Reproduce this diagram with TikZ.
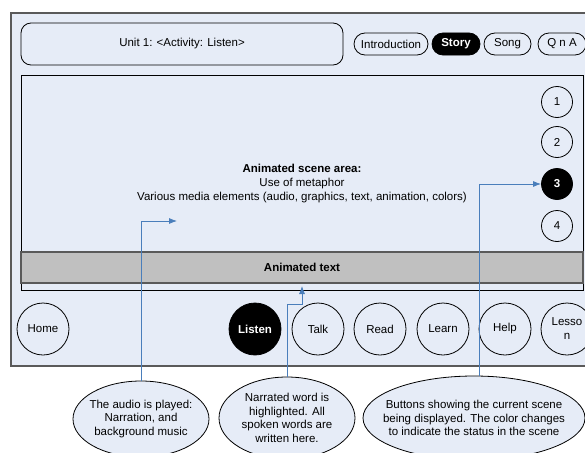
\documentclass[tikz,border=0pt]{standalone}
\usepackage{fontspec}
\setmainfont{Liberation Sans}
\usetikzlibrary{shapes.geometric,arrows.meta}
\definecolor{bgfill}{HTML}{E6ECF7}
\definecolor{conn}{HTML}{4A7EBB}
\definecolor{barfill}{HTML}{C0C0C0}
\definecolor{framegray}{HTML}{5A5A5A}
\tikzset{
  every node/.style={font=\fontsize{11.5}{13.5}\selectfont, inner sep=0pt},
  pill/.style={draw=black, fill=bgfill, rounded corners=11pt, minimum height=22pt, line width=0.8pt},
  pillon/.style={pill, fill=black, text=white, font=\fontsize{11.5}{13.5}\selectfont\bfseries},
  navbtn/.style={draw=black, fill=bgfill, circle, minimum size=52pt, line width=0.8pt},
  navon/.style={navbtn, fill=black, text=white, font=\fontsize{11.5}{13.5}\selectfont\bfseries},
  scenebtn/.style={draw=black, fill=bgfill, circle, minimum size=31pt, line width=0.8pt},
  sceneon/.style={scenebtn, fill=black, text=white, font=\fontsize{11.5}{13.5}\selectfont\bfseries},
  note/.style={draw=black, fill=bgfill, ellipse, line width=0.8pt, align=center, inner xsep=-30pt, inner ysep=-5pt, font=\fontsize{11.5}{13.5}\selectfont},
  link/.style={draw=conn, line width=0.8pt, -{Latex[length=8pt,width=6pt]}},
}
\begin{document}
\begin{tikzpicture}[x=1pt,y=-1pt]
\useasboundingbox (0,0) rectangle (585,452);
% outer frame
\draw[framegray, line width=1.2pt, fill=bgfill] (590,13) -- (11,13) -- (11,366) -- (590,366);
% header
\node[draw=black, fill=bgfill, rounded corners=10pt, minimum width=322pt, minimum height=42pt, line width=0.8pt] (header) at (182,44) {Unit 1: <Activity: Listen>};
% pills
\node[pill, minimum width=74pt] (intro) at (391,44) {Introduction};
\node[pillon, minimum width=48pt] (story) at (456,44) {Story};
\node[pill, minimum width=47pt] (song) at (507.5,44) {Song};
\node[pill, minimum width=48pt] (qna) at (562,44) {Q n A};
% scene area
\node[draw=black, fill=bgfill, minimum width=562pt, minimum height=215pt, line width=0.8pt] (scene) at (302,182.5) {};
\node[align=center, font=\fontsize{11.5}{14}\selectfont] (scenetext) at (302,184) {\textbf{Animated scene area:}\\Use of metaphor\\Various media elements (audio, graphics, text, animation, colors)};
\node[draw=framegray, fill=barfill, line width=1.5pt, minimum width=562pt, minimum height=31pt, font=\fontsize{11.5}{13.5}\selectfont\bfseries] (bar) at (302,267.5) {Animated text};
% scene buttons
\node[scenebtn] (s1) at (557,102) {1};
\node[scenebtn] (s2) at (557,142) {2};
\node[sceneon] (s3) at (557,184) {3};
\node[scenebtn] (s4) at (557,226) {4};
% nav buttons
\node[navbtn] (home) at (43,329) {Home};
\node[navon] (listen) at (255,329) {Listen};
\node[navbtn] (talk) at (318,329) {Talk};
\node[navbtn] (read) at (380,329) {Read};
\node[navbtn] (learn) at (443,329) {Learn};
\node[navbtn] (help) at (505,329) {Help};
\node[navbtn, align=center, font=\fontsize{11.5}{14}\selectfont] (lesson) at (567,329) {Lesso\\n};
% notes
\node[note, minimum width=136pt, minimum height=76pt] (n1) at (141,419) {The audio is played:\\Narration, and\\background music};
\node[note, minimum width=136pt, minimum height=82pt] (n2) at (287,418) {Narrated word is\\highlighted.  All\\spoken words are\\written here.};
\node[note, minimum width=222pt, minimum height=84pt] (n3) at (474,418) {Buttons showing the current scene\\being displayed.  The color changes\\to indicate the status in the scene};
% connectors
\coordinate (a1) at (177,221);
\draw[link] (n1.north) |- (a1);
\coordinate (a2) at (302,286);
\draw[link] (n2.north) -- (287,304) -| (a2);
\draw[link] (n3.north -| 479,0) |- (s3.west);
\end{tikzpicture}
\end{document}
